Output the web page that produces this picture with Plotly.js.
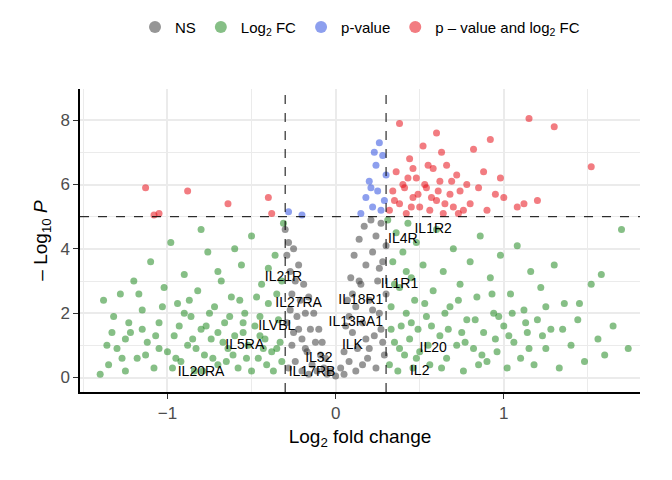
<!DOCTYPE html>
<html><head><meta charset="utf-8">
<script src="https://cdn.plot.ly/plotly-3.0.1.min.js"></script>
<style>body{margin:0}</style></head><body>
<div id="c" style="width:672px;height:480px"></div>
<script>
// values: [log2FC, -log10 P]
const nsPoints = [[-0.3,4.6],[-0.29,3.8],[-0.28,4.2],[-0.27,3.3],[-0.26,2.6],[-0.25,4.0],[-0.24,3.0],[-0.23,1.9],[-0.22,3.5],[-0.21,2.4],[-0.2,1.2],[-0.19,2.9],[-0.18,2.0],[-0.17,0.8],[-0.16,2.5],[-0.15,1.5],[-0.14,0.4],[-0.13,2.0],[-0.12,1.1],[-0.11,0.2],[-0.1,1.5],[-0.09,0.7],[-0.08,1.1],[-0.07,0.3],[-0.06,0.6],[-0.05,0.1],[-0.28,0.3],[-0.26,1.0],[-0.24,0.5],[-0.22,1.5],[-0.2,0.2],[-0.18,0.9],[-0.16,0.1],[-0.29,1.7],[-0.27,2.1],[-0.25,1.4],[-0.03,0.2],[0.0,0.05],[0.03,0.3],[0.05,0.8],[0.06,1.6],[0.07,2.4],[0.08,0.5],[0.09,3.1],[0.1,1.4],[0.11,3.8],[0.12,2.2],[0.13,0.9],[0.14,4.3],[0.15,2.9],[0.16,1.7],[0.17,4.7],[0.18,3.5],[0.19,0.6],[0.2,2.4],[0.21,4.9],[0.22,3.9],[0.23,1.3],[0.24,4.4],[0.25,3.0],[0.26,2.0],[0.27,4.8],[0.28,3.6],[0.29,0.7],[0.3,4.1],[0.3,2.6],[0.12,0.2],[0.16,0.4],[0.2,0.9],[0.24,0.3],[0.27,1.5],[0.22,2.1],[0.18,1.2],[0.14,3.0],[0.1,2.6],[0.08,1.9],[0.26,3.4],[0.05,0.1],[0.28,1.1]];
const fcPoints = [[-1.4,0.1],[-1.38,2.4],[-1.35,0.4],[-1.32,1.9],[-1.3,0.9],[-1.28,2.6],[-1.25,0.2],[-1.22,1.4],[-1.2,3.0],[-1.18,0.6],[-1.15,2.1],[-1.12,1.1],[-1.1,3.6],[-1.08,0.3],[-1.05,1.7],[-1.02,2.8],[-1.0,0.8],[-0.98,4.2],[-0.96,1.3],[-0.94,2.3],[-0.92,0.5],[-0.9,3.2],[-0.88,1.0],[-0.86,1.9],[-0.84,0.2],[-0.82,2.7],[-0.8,1.5],[-0.78,0.7],[-0.76,3.9],[-0.74,1.2],[-0.72,2.2],[-0.7,0.4],[-0.68,3.0],[-0.66,1.7],[-0.64,0.9],[-0.62,2.5],[-0.6,1.3],[-0.58,0.3],[-0.56,3.5],[-0.54,2.0],[-0.52,1.0],[-0.5,4.4],[-0.48,1.6],[-0.46,0.6],[-0.44,2.9],[-0.42,1.2],[-0.4,2.3],[-0.38,0.8],[-0.36,3.8],[-0.34,1.8],[-0.32,0.5],[-0.31,4.8],[-0.35,2.6],[-0.45,1.9],[-0.55,1.4],[-0.65,0.5],[-0.75,2.0],[-0.85,1.2],[-0.95,0.6],[-1.05,0.9],[-1.15,1.5],[-1.25,1.2],[-0.7,3.3],[-0.6,4.0],[-0.8,4.6],[-0.4,3.4],[-0.5,0.2],[-0.33,1.1],[-0.37,0.2],[-0.43,0.9],[-0.47,2.5],[-0.53,0.6],[-0.57,2.4],[-0.63,1.9],[-0.67,1.1],[-0.73,0.6],[-0.77,1.6],[-0.83,0.9],[-0.87,2.4],[-0.93,1.6],[-0.97,0.3],[-1.03,2.2],[-1.07,1.3],[-1.13,0.7],[-1.17,2.6],[-1.23,1.7],[-1.27,0.6],[-1.33,1.4],[-1.36,1.0],[-0.9,2.0],[-0.7,1.4],[-0.55,1.7],[-0.45,1.3],[-0.35,0.9],[-0.32,3.0],[-0.41,0.4],[-0.61,0.7],[-0.79,0.2],
[0.31,4.9],[0.32,0.4],[0.33,2.2],[0.34,3.6],[0.35,1.1],[0.36,4.5],[0.37,0.2],[0.38,2.8],[0.39,1.6],[0.4,3.9],[0.41,0.7],[0.42,2.0],[0.43,4.8],[0.44,1.2],[0.45,3.1],[0.46,0.3],[0.47,2.4],[0.48,4.2],[0.49,1.5],[0.5,0.8],[0.52,3.5],[0.54,1.9],[0.56,0.4],[0.58,2.7],[0.6,4.6],[0.62,1.3],[0.64,3.3],[0.66,0.6],[0.68,2.2],[0.7,4.0],[0.72,1.0],[0.74,2.9],[0.76,0.2],[0.78,1.8],[0.8,3.6],[0.82,0.9],[0.84,2.5],[0.86,4.4],[0.88,1.4],[0.9,0.5],[0.92,3.1],[0.94,2.0],[0.96,0.8],[0.98,3.8],[1.0,1.6],[1.02,0.3],[1.04,2.6],[1.06,1.1],[1.08,4.1],[1.1,0.6],[1.12,2.1],[1.14,1.4],[1.16,3.3],[1.18,0.4],[1.2,1.8],[1.22,2.8],[1.25,0.9],[1.28,1.5],[1.3,3.5],[1.33,0.3],[1.36,2.3],[1.4,1.0],[1.44,1.8],[1.48,0.5],[1.52,2.9],[1.56,1.2],[1.6,0.7],[1.65,1.6],[1.7,4.6],[1.74,0.9],[0.35,2.9],[0.45,1.7],[0.55,1.0],[0.65,2.0],[0.75,1.4],[0.85,0.4],[0.95,1.2],[1.05,2.0],[1.15,0.9],[1.25,2.2],[0.33,1.5],[0.38,0.9],[0.42,3.3],[0.48,0.6],[0.53,2.3],[0.57,1.6],[0.63,0.3],[0.67,1.5],[0.73,2.4],[0.77,1.1],[0.83,1.8],[0.87,0.7],[0.93,2.6],[0.97,1.9],[1.03,1.3],[1.13,1.7],[1.23,1.3],[1.35,1.5],[1.45,2.3],[1.58,3.2]];
const pPoints = [[-0.28,5.15],[-0.2,5.05],[0.15,5.1],[0.18,5.6],[0.2,6.1],[0.22,5.3],[0.24,6.6],[0.25,5.8],[0.26,7.3],[0.27,5.2],[0.28,6.9],[0.29,5.5],[0.3,6.3],[0.21,5.9],[0.23,7.0]];
const bothPoints = [[-1.13,5.9],[-1.05,5.1],[-1.08,5.05],[-0.88,5.8],[-0.64,5.4],[-0.4,5.6],[-0.38,5.1],[0.38,7.9],[0.6,7.6],[1.15,8.05],[1.3,7.8],[1.52,6.55],[0.92,7.4],[0.82,7.1],[1.0,5.6],[1.08,5.3],[1.12,5.4],[0.98,6.2],[1.2,5.5],[0.32,5.2],[0.34,5.8],[0.36,6.4],[0.38,5.4],[0.4,6.0],[0.42,5.1],[0.44,6.8],[0.46,5.6],[0.48,6.2],[0.5,5.3],[0.52,7.2],[0.54,5.9],[0.56,5.2],[0.58,6.5],[0.6,5.5],[0.62,6.1],[0.64,5.1],[0.66,6.6],[0.68,5.7],[0.7,5.3],[0.72,6.3],[0.74,5.8],[0.76,5.2],[0.78,6.0],[0.8,5.4],[0.85,5.9],[0.88,6.4],[0.9,5.2],[0.95,5.7],[0.35,5.5],[0.41,5.9],[0.45,5.3],[0.49,5.7],[0.53,6.0],[0.57,5.6],[0.61,5.8],[0.65,5.4],[0.69,6.1],[0.73,5.1],[0.46,6.5],[0.55,6.6],[0.63,7.0],[0.43,6.2]];
const geneLabels = ['IL1R2','IL4R','IL21R','IL1R1','IL27RA','IL18R1','IL13RA1','ILVBL','IL5RA','ILK','IL32','IL20','IL17RB','IL20RA','IL2'];
const labelX = [0.58,0.4,-0.31,0.38,-0.22,0.15,0.12,-0.35,-0.54,0.1,-0.1,0.58,-0.14,-0.8,0.5];
const labelY = [4.6,4.3,3.1,2.9,2.3,2.4,1.7,1.6,1.0,1.0,0.6,0.9,0.15,0.15,0.2];

const mk = (pts, name, color) => ({type:'scatter', mode:'markers', name,
  x: pts.map(p=>p[0]), y: pts.map(p=>p[1]),
  marker:{color, size:7, opacity:0.55, line:{width:0}}});
const data = [
  mk(nsPoints,'NS','#404040'),
  mk(fcPoints,'Log<sub>2</sub> FC','#228b22'),
  mk(pPoints,'p-value','#3050e0'),
  mk(bothPoints,'p \u2013 value and log<sub>2</sub> FC','#e8101a'),
  {type:'scatter', mode:'text', x:labelX, y:labelY, text:geneLabels, showlegend:false,
   textfont:{size:14, color:'#000'}}
];
const grid = '#ebebeb';
const layout = {
  width:672, height:480, margin:{l:80,r:32,t:88,b:88},
  paper_bgcolor:'#fff', plot_bgcolor:'#fff',
  font:{family:'Liberation Sans, Arial', color:'#000'},
  showlegend:true,
  legend:{orientation:'h', x:0.5, xanchor:'center', y:1.2, yanchor:'middle', font:{size:15}, itemsizing:'constant'},
  xaxis:{range:[-1.52,1.81], tickvals:[-1,0,1], showgrid:true, gridcolor:grid, gridwidth:1.5,
    minor:{dtick:0.5, showgrid:true, gridcolor:grid, gridwidth:0.8}, zeroline:false,
    showline:true, linecolor:'#000', linewidth:1.5, ticks:'outside', ticklen:5, tickcolor:'#333',
    tickfont:{size:17,color:'#4d4d4d'}, title:{text:'Log<sub>2</sub> fold change', font:{size:19}, standoff:8}},
  yaxis:{range:[-0.45,8.97], tickvals:[0,2,4,6,8], showgrid:true, gridcolor:grid, gridwidth:1.5,
    minor:{dtick:1, showgrid:true, gridcolor:grid, gridwidth:0.8}, zeroline:false,
    showline:true, linecolor:'#000', linewidth:1.5, ticks:'outside', ticklen:5, tickcolor:'#333',
    tickfont:{size:17,color:'#4d4d4d'}, title:{text:'\u2013 Log<sub>10</sub> <i>P</i>', font:{size:19}, standoff:8}},
  shapes:[
    {type:'line', xref:'x', yref:'paper', x0:-0.3, x1:-0.3, y0:0, y1:1, line:{dash:'dash', width:1, color:'#000'}},
    {type:'line', xref:'x', yref:'paper', x0:0.3, x1:0.3, y0:0, y1:1, line:{dash:'dash', width:1, color:'#000'}},
    {type:'line', xref:'paper', yref:'y', x0:0, x1:1, y0:5, y1:5, line:{dash:'dash', width:1, color:'#000'}}
  ]
};
Plotly.newPlot('c', data, layout, {displayModeBar:false});
</script></body></html>
